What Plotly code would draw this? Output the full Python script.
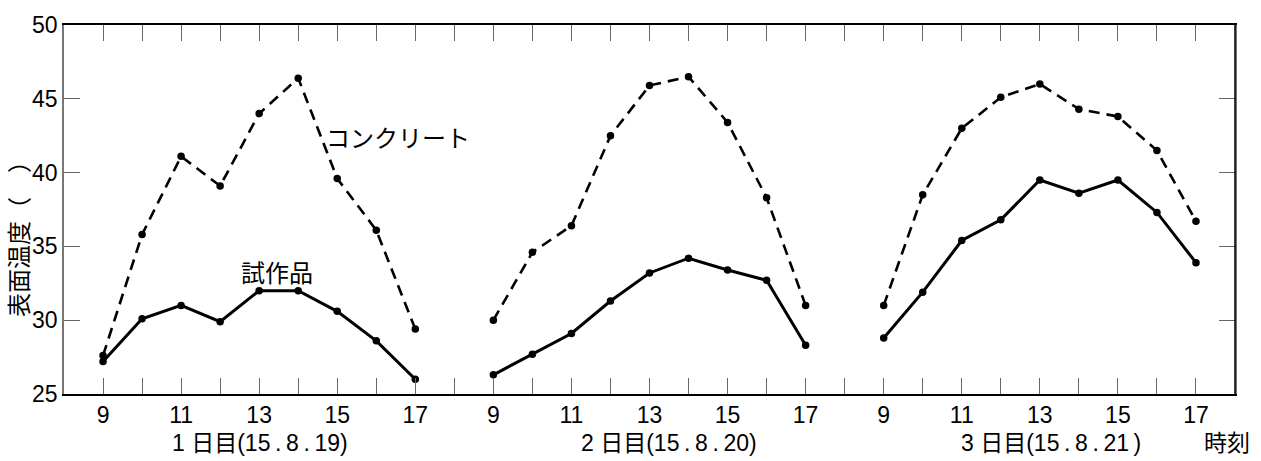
import plotly.graph_objects as go

# Measurement hours and days
hours = [9, 10, 11, 12, 13, 14, 15, 16, 17]
day_labels = ["1 日目(15\u2009.\u20098\u2009.\u200919)",
              "2 日目(15\u2009.\u20098\u2009.\u200920)",
              "3 日目(15\u2009.\u20098\u2009.\u200921\u2009)"]

# Surface temperature (°C) of concrete, per day
concrete_d1 = [27.6, 35.8, 41.1, 39.1, 44.0, 46.4, 39.6, 36.1, 29.4]
concrete_d2 = [30.0, 34.6, 36.4, 42.5, 45.9, 46.5, 43.4, 38.3, 31.0]
concrete_d3 = [31.0, 38.5, 43.0, 45.1, 46.0, 44.3, 43.8, 41.5, 36.7]

# Surface temperature (°C) of the prototype, per day
proto_d1 = [27.2, 30.1, 31.0, 29.9, 32.0, 32.0, 30.6, 28.6, 26.0]
proto_d2 = [26.3, 27.7, 29.1, 31.3, 33.2, 34.2, 33.4, 32.7, 28.3]
proto_d3 = [28.8, 31.9, 35.4, 36.8, 39.5, 38.6, 39.5, 37.3, 33.9]

y_ticks = [25, 30, 35, 40, 45, 50]

FONT = "Liberation Sans, Arial, Noto Sans CJK JP, sans-serif"
JFONT = "Noto Sans CJK JP, sans-serif"
DAY_STRIDE = len(hours) + 1  # one empty slot between days


def day_x(day):
    return [day * DAY_STRIDE + (h - hours[0]) for h in hours]


fig = go.Figure()

for d, (conc, proto) in enumerate([(concrete_d1, proto_d1),
                                   (concrete_d2, proto_d2),
                                   (concrete_d3, proto_d3)]):
    xs = day_x(d)
    fig.add_trace(go.Scatter(
        x=xs, y=conc, mode="lines+markers",
        line=dict(color="black", width=2.6, dash="11px,7px"),
        marker=dict(color="black", size=7.5),
        showlegend=False))
    fig.add_trace(go.Scatter(
        x=xs, y=proto, mode="lines+markers",
        line=dict(color="black", width=3),
        marker=dict(color="black", size=7.5),
        showlegend=False))

# x ticks at every hour slot (including the gaps), labels at odd hours
tickvals, ticktext = [], []
for pos in range(3 * DAY_STRIDE - 1):
    tickvals.append(pos)
    k = pos % DAY_STRIDE
    if k < len(hours) and hours[k] % 2 == 1:
        ticktext.append(str(hours[k]))
    else:
        ticktext.append("")

fig.update_xaxes(
    range=[-1, 3 * DAY_STRIDE - 1],
    tickvals=tickvals, ticktext=ticktext,
    ticks="inside", ticklen=16, tickwidth=1.2, tickcolor="#666666",
    showline=True, linecolor="black", linewidth=1.5, mirror="allticks",
    showgrid=False, zeroline=False,
    tickfont=dict(family=FONT, size=23, color="black"),
)
fig.update_yaxes(
    range=[25, 50], tickvals=y_ticks,
    ticks="inside", ticklen=16, tickwidth=1.2, tickcolor="#666666",
    showline=True, linecolor="#777777", linewidth=1.5, mirror="allticks",
    showgrid=False, zeroline=False,
    tickfont=dict(family=FONT, size=23, color="black"),
)

# right border drawn in black
fig.add_shape(type="line", xref="paper", yref="paper", x0=1, x1=1, y0=0, y1=1,
              line=dict(color="black", width=1.5))

annotations = []
# day captions below the hour labels
day_centers = [4.03, 14.49, 24.28]
for lbl, cx in zip(day_labels, day_centers):
    annotations.append(dict(x=cx, y=0, xref="x", yref="paper", text=lbl,
                            showarrow=False, yshift=-49, yanchor="middle",
                            font=dict(family=FONT, size=23, color="black")))
annotations.append(dict(x=28.8, y=0, xref="x", yref="paper", text="時刻",
                        showarrow=False, yshift=-47, yanchor="middle",
                        font=dict(family=JFONT, size=23, color="black")))
# series labels
annotations.append(dict(x=5.65, y=42.45, xref="x", yref="y", text="コンクリート",
                        showarrow=False, xanchor="left", yanchor="middle",
                        font=dict(family=JFONT, size=24, color="black")))
annotations.append(dict(x=3.48, y=33.3, xref="x", yref="y", text="試作品",
                        showarrow=False, xanchor="left", yanchor="middle",
                        font=dict(family=JFONT, size=24, color="black")))
# vertical axis title
annotations.append(dict(x=0, y=0.436, xref="paper", yref="paper",
                        text="表面温度（\u3000）", textangle=-90,
                        showarrow=False, xshift=-47,
                        xanchor="center", yanchor="middle",
                        font=dict(family=JFONT, size=24, color="black")))

fig.update_layout(
    width=1261, height=461,
    margin=dict(l=64, r=26, t=16, b=67),
    plot_bgcolor="white", paper_bgcolor="white",
    annotations=annotations,
)

fig.write_html("out.html")
